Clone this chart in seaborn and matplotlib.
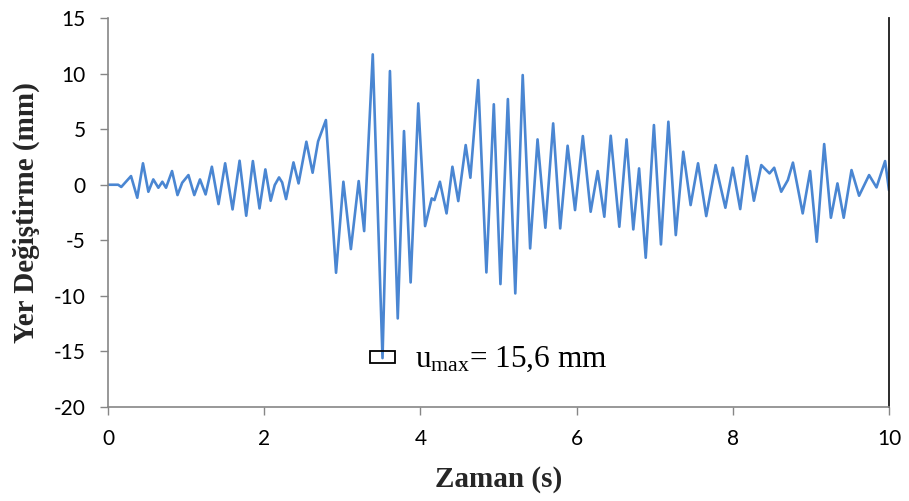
import matplotlib
matplotlib.use("Agg")
import matplotlib.pyplot as plt
import seaborn as sns
import pandas as pd
from matplotlib.patches import Rectangle

# Ground displacement record: time (s) and displacement (mm) at the turning points
time_s = [
    0.00, 0.13, 0.17, 0.295, 0.375, 0.448, 0.517, 0.58, 0.645, 0.696,
    0.743, 0.82, 0.89, 0.95, 1.03, 1.105, 1.178, 1.25, 1.33, 1.415,
    1.50, 1.595, 1.685, 1.77, 1.855, 1.94, 2.015, 2.083, 2.135, 2.19,
    2.23, 2.28, 2.375, 2.44, 2.54, 2.62, 2.69, 2.79, 2.92, 3.014,
    3.11, 3.21, 3.28, 3.39, 3.515, 3.61, 3.71, 3.79, 3.875, 3.973,
    4.06, 4.145, 4.18, 4.25, 4.335, 4.41, 4.485, 4.58, 4.64, 4.74,
    4.845, 4.94, 5.025, 5.12, 5.215, 5.31, 5.405, 5.50, 5.60, 5.70,
    5.79, 5.885, 5.98, 6.08, 6.18, 6.27, 6.355, 6.437, 6.547, 6.64,
    6.726, 6.80, 6.885, 6.99, 7.08, 7.175, 7.27, 7.366, 7.46, 7.555,
    7.66, 7.78, 7.905, 8.0, 8.095, 8.18, 8.27, 8.365, 8.47, 8.53,
    8.62, 8.705, 8.77, 8.895, 8.99, 9.075, 9.17, 9.256, 9.34, 9.42,
    9.52, 9.617, 9.745, 9.84, 9.95, 10.0,
]
displacement_mm = [
    0.0, 0.0, -0.2, 0.78, -1.17, 1.93, -0.63, 0.48, -0.27, 0.27,
    -0.27, 1.23, -0.93, 0.18, 0.87, -0.93, 0.48, -0.87, 1.62, -1.74,
    1.93, -2.22, 2.16, -2.79, 2.13, -2.13, 1.38, -1.44, -0.03, 0.66,
    0.21, -1.29, 2.01, 0.12, 3.87, 1.08, 3.9, 5.82, -7.92, 0.27,
    -5.79, 0.33, -4.17, 11.73, -15.6, 10.23, -12.03, 4.83, -8.79, 7.32,
    -3.72, -1.23, -1.38, 0.27, -2.58, 1.62, -1.47, 3.57, 0.63, 9.42,
    -7.89, 7.24, -8.94, 7.71, -9.78, 9.87, -5.73, 4.08, -3.87, 5.52,
    -3.93, 3.51, -2.28, 4.38, -2.43, 1.23, -2.88, 4.41, -3.78, 4.08,
    -4.02, 1.47, -6.57, 5.37, -5.37, 5.67, -4.53, 2.97, -1.83, 1.93,
    -2.82, 1.77, -2.07, 1.53, -2.19, 2.58, -1.44, 1.77, 1.02, 1.53,
    -0.63, 0.42, 1.99, -2.58, 1.23, -5.13, 3.66, -2.97, 0.12, -2.97,
    1.32, -0.99, 0.87, -0.24, 2.13, -0.5,
]

x_ticks = [0, 2, 4, 6, 8, 10]
y_ticks = [-20, -15, -10, -5, 0, 5, 10, 15]

u_max = 15.6
u_max_time = 3.515

sns.set_theme(style="white")
plt.rcParams["font.family"] = ["Lato", "DejaVu Sans"]
plt.rcParams["mathtext.fontset"] = "custom"
plt.rcParams["mathtext.rm"] = "Liberation Serif"
plt.rcParams["mathtext.it"] = "Liberation Serif:italic"

df = pd.DataFrame({"t": time_s, "u": displacement_mm})

fig = plt.figure(figsize=(9.09, 5.01), dpi=100)
ax = fig.add_axes([0.1188, 0.1876, 0.978 - 0.1188, 0.964 - 0.1876])

sns.lineplot(data=df, x="t", y="u", ax=ax, color="#4A86D2", linewidth=1.9,
             solid_joinstyle="round", solid_capstyle="round")

ax.set_xlim(0, 10)
ax.set_ylim(-20, 15)
ax.set_xticks(x_ticks)
ax.set_yticks(y_ticks)
ax.set_xticklabels([str(v) for v in x_ticks])
ax.set_yticklabels([str(v) for v in y_ticks])

axis_grey = "#868686"
for side in ("left", "bottom"):
    ax.spines[side].set_color(axis_grey)
    ax.spines[side].set_linewidth(1.2)
ax.spines["top"].set_visible(False)
ax.spines["right"].set_color("#1a1a1a")
ax.spines["right"].set_linewidth(1.3)

ax.tick_params(axis="both", which="major", length=6, width=1.0, color=axis_grey,
               labelsize=15, labelcolor="black", direction="out")
ax.tick_params(axis="y", left=True, pad=10)
ax.tick_params(axis="x", bottom=True, pad=10)

label_font = dict(family="Liberation Serif", weight="bold", size=21)
ax.set_xlabel("Zaman (s)", fontdict=label_font, labelpad=12)
ax.set_ylabel("Yer Değiştirme (mm)", fontdict=label_font, labelpad=10)

# Peak marker box and annotation
ax.add_patch(Rectangle((3.355, -16.05), 0.32, 1.08, fill=False,
                       edgecolor="black", linewidth=1.3, zorder=3))
ax.text(3.93, -16.4, r"u$_{\mathrm{max}}$= " + f"{u_max:.1f}".replace(".", ",") + " mm",
        family="Liberation Serif", fontsize=22.5, color="black",
        ha="left", va="baseline")

fig.savefig("out.png", dpi=100)
